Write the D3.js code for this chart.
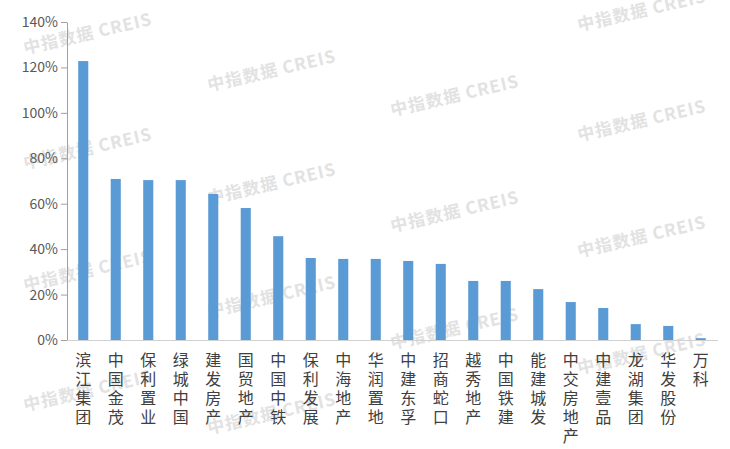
<!DOCTYPE html>
<html><head><meta charset="utf-8">
<script src="https://cdn.jsdelivr.net/npm/d3@7/dist/d3.min.js"></script>
<style>body{margin:0;background:#fff}svg{display:block}</style>
</head><body><svg id="c" width="730" height="449"></svg>
<script>
const categories = ["滨江集团","中国金茂","保利置业","绿城中国","建发房产","国贸地产","中国中铁","保利发展","中海地产","华润置地","中建东孚","招商蛇口","越秀地产","中国铁建","能建城发","中交房地产","中建壹品","龙湖集团","华发股份","万科"];
const values = [122.8,70.9,70.4,70.4,64.3,58.1,45.7,36.1,35.7,35.7,34.8,33.5,26.0,26.0,22.4,16.7,14.1,7.0,6.2,0.8];
const yTicks = [0,20,40,60,80,100,120,140];
const watermarks = [[88,35],[88,150],[88,272],[88,392],[272,72],[272,185],[272,298],[272,415],[455,97],[455,213],[455,330],[642,12],[642,122],[642,238],[642,355]];

const svg = d3.select("#c");
const m = {l:67, r:717, t:22, b:340};
const x = d3.scaleBand().domain(categories).range([m.l, m.r]).paddingInner(0.69).paddingOuter(0.345);
const y = d3.scaleLinear().domain([0,140]).range([m.b, m.t]);

// watermarks
svg.append("g").selectAll("text").data(watermarks).join("text")
  .attr("transform", d => `translate(${d[0]},${d[1]}) rotate(-13)`)
  .attr("text-anchor","middle").attr("dominant-baseline","middle")
  .attr("font-family","Noto Sans CJK SC").attr("font-weight",600).attr("font-size",17)
  .attr("letter-spacing",1).attr("fill","#e2e2e2").text("中指数据 CREIS");

// bars
svg.append("g").selectAll("rect").data(categories).join("rect")
  .attr("x", d => x(d)).attr("width", x.bandwidth())
  .attr("y", (d,i) => y(values[i])).attr("height", (d,i) => y(0) - y(values[i]))
  .attr("fill","#5b9bd5");

// y axis
const ya = svg.append("g").attr("transform",`translate(${m.l},0)`)
  .call(d3.axisLeft(y).tickValues(yTicks).tickFormat(d => d + "%").tickSize(6).tickSizeOuter(0));
ya.select(".domain").attr("stroke","#a0a0a0");
ya.selectAll(".tick line").attr("stroke","#a0a0a0");
ya.selectAll(".tick text").attr("font-family","Noto Sans CJK SC").attr("font-size",14).attr("fill","#595959").attr("x",-9);

// x axis
const xa = svg.append("g").attr("transform",`translate(0,${m.b})`)
  .call(d3.axisBottom(x).tickSize(0).tickSizeOuter(0).tickFormat(""));
xa.select(".domain").attr("stroke","#d0d0d0").attr("d",`M${m.l},0.5H${m.r+1}`);
xa.selectAll(".tick").each(function(d){
  const t = d3.select(this).append("text").attr("text-anchor","middle")
    .attr("font-family","Noto Sans CJK SC").attr("font-size",16).attr("fill","#404040");
  Array.from(d).forEach((ch,k) => t.append("tspan").attr("x",0).attr("y", 26 + k*19).text(ch));
});
</script></body></html>
